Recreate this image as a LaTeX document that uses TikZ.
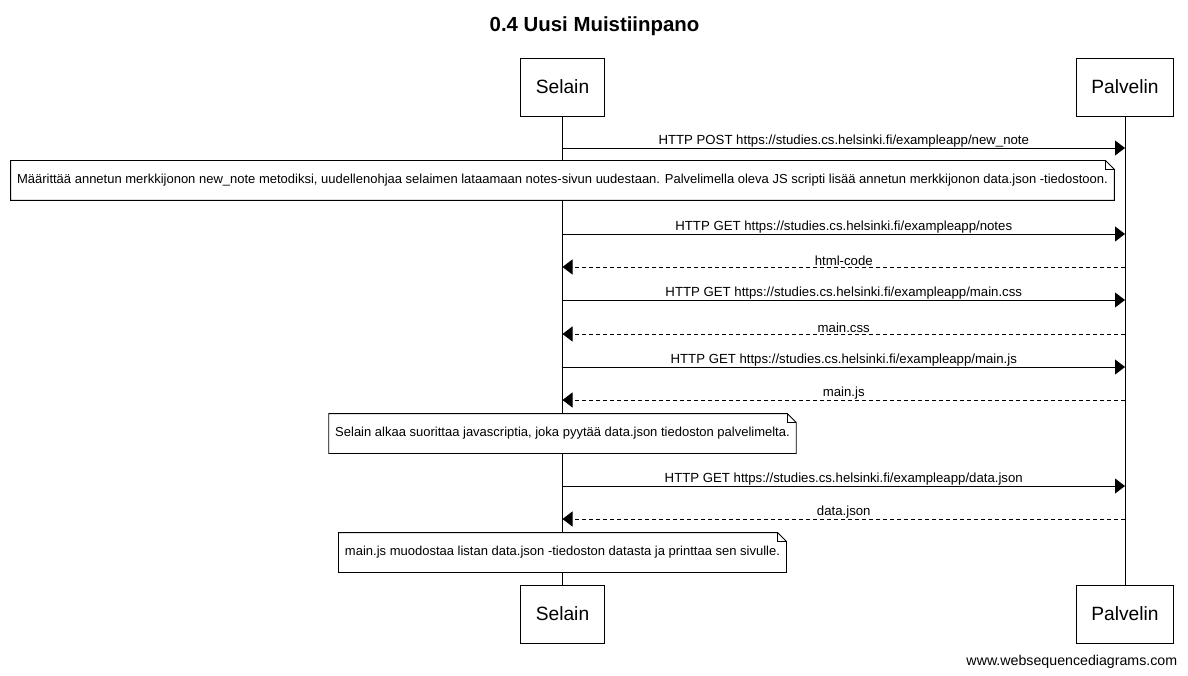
\documentclass[tikz,border=0pt]{standalone}
\usepackage{fontspec}
\setmainfont{Liberation Sans}
\usetikzlibrary{arrows.meta,positioning,calc}

\begin{document}
\begin{tikzpicture}[x=1pt,y=-1pt,line width=0.9pt,>={Triangle[length=10pt,width=15pt]},
  actor/.style={draw,fill=white,minimum height=58pt,inner xsep=15pt,font=\fontsize{19.2}{22}\selectfont},
  msglabel/.style={midway,above,inner sep=0.5pt,font=\fontsize{13.2}{15}\selectfont},
  note/.style={fill=white,minimum height=39pt,inner xsep=6pt,font=\fontsize{13}{15}\selectfont},
  reply/.style={->,dash pattern=on 4pt off 3pt}]
  \useasboundingbox (0,0) rectangle (1188,676);
  \node[font=\bfseries\fontsize{20.4}{23}\selectfont] (title) at (594.5,26) {0.4 Uusi Muistiinpano};
  % participants, top and bottom
  \node[actor] (selainTop) at (562.5,87) {Selain};
  \node[actor] (palvelinTop) at (1125,87) {Palvelin};
  \node[actor] (selainBot) at (562.5,614) {Selain};
  \node[actor] (palvelinBot) at (1125,614) {Palvelin};
  \draw (selainTop) -- (selainBot);
  \draw (palvelinTop) -- (palvelinBot);
  % requests from the browser
  \foreach \y/\txt in {148/{HTTP POST https://studies.cs.helsinki.fi/exampleapp/new\_note},
                       234/{HTTP GET https://studies.cs.helsinki.fi/exampleapp/notes},
                       300/{HTTP GET https://studies.cs.helsinki.fi/exampleapp/main.css},
                       367/{HTTP GET https://studies.cs.helsinki.fi/exampleapp/main.js},
                       486/{HTTP GET https://studies.cs.helsinki.fi/exampleapp/data.json}}{
    \coordinate (s\y) at (selainTop |- 0,\y);
    \coordinate (p\y) at (palvelinTop |- 0,\y);
    \draw[->] (s\y) -- (p\y) node[msglabel]{\txt};}
  % answers from the server
  \foreach \y/\txt in {267/html-code,334/main.css,400/main.js,519/data.json}{
    \coordinate (p\y) at (palvelinTop |- 0,\y);
    \coordinate (s\y) at (selainTop |- 0,\y);
    \draw[reply] (p\y) -- (s\y) node[msglabel]{\txt};}
  % notes over Selain
  \node[note] (noteA) at (selainTop |- 0,180.5) {Määrittää annetun merkkijonon new\_note metodiksi, uudellenohjaa selaimen lataamaan notes-sivun uudestaan. Palvelimella oleva JS scripti lisää annetun merkkijonon data.json -tiedostoon.};
  \node[note] (noteB) at (selainTop |- 0,433.5) {Selain alkaa suorittaa javascriptia, joka pyytää data.json tiedoston palvelimelta.};
  \node[note] (noteC) at (selainTop |- 0,552.5) {main.js muodostaa listan data.json -tiedoston datasta ja printtaa sen sivulle.};
  \foreach \n in {noteA,noteB,noteC}{
    \draw (\n.north west) -- ($(\n.north east)+(-9,0)$) -- ($(\n.north east)+(0,9)$)
      -- (\n.south east) -- (\n.south west) -- cycle;
    \draw ($(\n.north east)+(-9,0)$) -- ($(\n.north east)+(-9,9)$) -- ($(\n.north east)+(0,9)$);}
  \node[anchor=east,font=\fontsize{14.2}{16}\selectfont] (footer) at (1181,662) {www.websequencediagrams.com};
\end{tikzpicture}
\end{document}
